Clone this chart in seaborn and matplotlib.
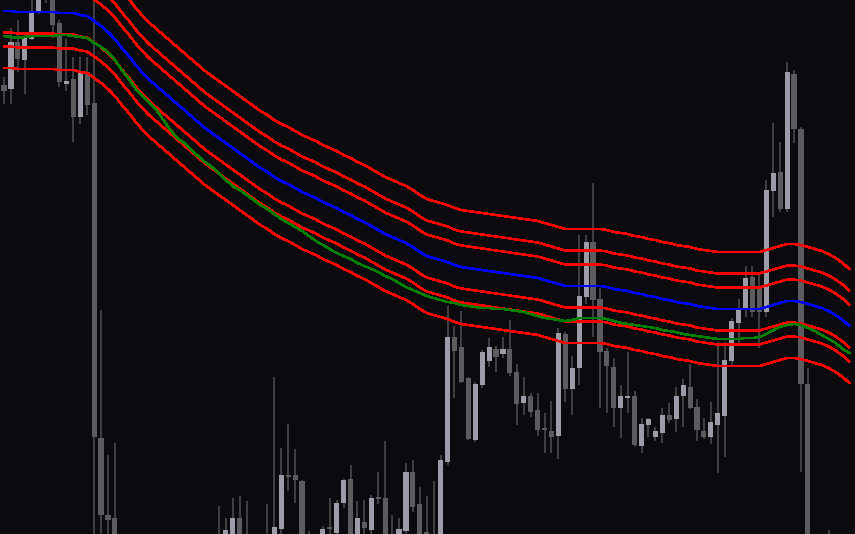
import pandas as pd
import seaborn as sns
import matplotlib
matplotlib.use("Agg")
import matplotlib.pyplot as plt

# OHLC per bar (price units, higher = up)
open_ = [615, 611, 658, 640, 661, 688, 718, 710, 677, 616, 621, 583, 628,
         597, 262, 185, 182, 152, 125, 140, 110, 90, 105, 80, 95, 70, 88, 102, 120, 110, 130,
         155, 148, 155, 182, 152, 140, 148, 155, 160, 171, 225, 225, 219, 155, 148, 152, 173, 167, 197, 221,
         160, 178, 170, 203, 202, 160, 150, 169, 228, 196, 168, 152,
         155, 238, 363, 353, 322, 260, 315, 339, 351, 346, 351, 328, 297, 304, 290, 272, 269, 264,
         366, 311, 332, 403, 458, 401, 349, 333, 292, 302, 304, 254, 275, 263, 267, 285, 281, 304,
         313, 293, 269, 263, 275, 284, 339, 377, 391, 423, 413, 388, 509, 528, 491, 626, 571, 316,
         140, 125, 135, 145, 130, 140]
high_ = [623, 672, 680, 667, 706, 712, 725, 716, 680, 661, 643, 643, 643,
         705, 390, 245, 257, 155, 148, 144, 120, 112, 110, 102, 100, 94, 110, 128, 132, 140, 152,
         194, 182, 202, 204, 199, 160, 162, 196, 323, 252, 276, 251, 220, 169, 160, 174, 202, 200, 221, 235,
         199, 200, 205, 228, 259, 185, 182, 237, 240, 213, 204, 219,
         245, 394, 374, 389, 323, 318, 350, 362, 354, 363, 380, 336, 323, 307, 307, 287, 299, 372,
         368, 344, 465, 465, 517, 412, 352, 342, 315, 348, 309, 282, 282, 273, 292, 297, 313, 321,
         336, 301, 282, 298, 358, 358, 382, 401, 434, 434, 426, 520, 577, 558, 638, 630, 573, 332,
         155, 152, 170, 155, 152, 150]
low_ = [596, 596, 628, 606, 660, 686, 697, 662, 613, 609, 558, 576, 585,
        155, 152, 150, 140, 110, 115, 100, 75, 80, 68, 72, 60, 55, 80, 95, 100, 104, 122,
        134, 140, 148, 144, 130, 132, 140, 148, 152, 163, 209, 197, 148, 140, 142, 147, 160, 165, 192, 155,
        155, 164, 165, 196, 154, 144, 144, 166, 188, 154, 155, 144,
        150, 235, 302, 317, 260, 258, 312, 333, 328, 342, 324, 275, 285, 283, 264, 247, 247, 241,
        298, 285, 315, 396, 363, 292, 287, 273, 262, 287, 253, 247, 263, 259, 257, 277, 268, 273,
        291, 259, 261, 256, 227, 243, 333, 357, 383, 383, 352, 383, 483, 488, 488, 557, 228, 120,
        110, 115, 125, 120, 115, 115]
close_ = [609, 658, 641, 662, 688, 705, 704, 675, 618, 619, 583, 628, 595,
          263, 185, 180, 152, 125, 140, 110, 90, 105, 80, 95, 70, 88, 102, 120, 110, 130, 140,
          142, 170, 182, 152, 140, 148, 155, 160, 173, 225, 223, 220, 155, 148, 152, 171, 171, 197, 220, 160,
          182, 172, 202, 201, 160, 150, 171, 228, 193, 160, 165, 160,
          240, 363, 349, 318, 261, 316, 348, 353, 343, 351, 327, 296, 304, 288, 270, 270, 263, 367,
          311, 332, 404, 458, 400, 348, 334, 292, 304, 304, 255, 276, 281, 269, 285, 280, 304, 315,
          292, 270, 263, 278, 287, 340, 379, 392, 422, 388, 388, 510, 527, 491, 628, 571, 316, 140,
          125, 135, 145, 130, 140, 128]

# moving average (blue) and signal line (green)
mid_line = [689, 689, 688, 688, 688, 688, 688, 688, 687, 687, 687, 685, 684,
            679, 674, 668, 661, 652, 644, 635, 627, 620, 614, 608, 602, 596, 590, 584, 578, 572, 567,
            562, 557, 552, 547, 542, 537, 532, 528, 523, 519, 516, 512, 508, 505, 502, 498,
            495, 492, 488, 485, 481, 478, 474, 470, 466, 463, 460, 457, 453, 448, 444, 442,
            440, 438, 435, 433, 432, 431, 430, 429, 428, 427, 426, 425, 424, 423, 422, 420, 418, 416,
            414, 414, 414, 414, 414, 414, 413, 411, 410, 409, 407, 406, 404, 403, 401, 400, 398, 397,
            396, 394, 393, 392, 391, 391, 391, 391, 391, 391, 391, 393, 395, 397, 399, 399, 398, 396,
            394, 392, 389, 385, 380, 374]
signal_line = [664, 663, 662, 663, 664, 664, 664, 664, 665, 665, 664, 663, 662,
               657, 653, 648, 640, 630, 621, 611, 604, 597, 590, 580, 570, 562, 557, 550, 544, 538, 533,
               527, 520, 514, 510, 505, 500, 495, 491, 486, 481, 477, 473, 469, 464, 459, 455,
               451, 447, 444, 441, 437, 434, 431, 428, 424, 421, 417, 413, 410, 407, 404, 402,
               400, 398, 397, 395, 394, 393, 392, 392, 391, 391, 390, 389, 388, 386, 384, 382, 381, 380,
               379, 380, 382, 382, 382, 382, 381, 379, 377, 376, 375, 374, 373, 372, 370, 369, 368, 366,
               365, 364, 363, 362, 361, 361, 361, 361, 362, 362, 363, 366, 370, 373, 375, 376, 375, 372,
               369, 365, 361, 357, 351, 347]
band_offsets = [21.5, 35.5, 57.0]

bg = "#0a0a0f"
bull_color = "#9c9ca8"
bear_color = "#5b5b60"
wick_color = "#4e4e54"

df = pd.DataFrame({"open": open_, "high": high_, "low": low_, "close": close_,
                   "mid": mid_line, "signal": signal_line})
df["bar"] = range(len(df))
df["bull"] = df["close"] >= df["open"]
df["body_low"] = df[["open", "close"]].min(axis=1)
df["body_h"] = (df["close"] - df["open"]).abs().clip(lower=1.5)

# long table of indicator lines
lines = [df[["bar"]].assign(price=df["mid"], line="mid"),
         df[["bar"]].assign(price=df["signal"], line="signal")]
palette = {"mid": "#0000ff", "signal": "#008000"}
for k, off in enumerate(band_offsets):
    lines.append(df[["bar"]].assign(price=df["mid"] + off, line=f"up{k}"))
    lines.append(df[["bar"]].assign(price=df["mid"] - off, line=f"dn{k}"))
    palette[f"up{k}"] = "#ff0000"
    palette[f"dn{k}"] = "#ff0000"
line_df = pd.concat(lines, ignore_index=True)

sns.set_theme(style="dark", rc={"axes.facecolor": bg, "figure.facecolor": bg})

fig, ax = plt.subplots(figsize=(8.55, 5.34), dpi=100)
fig.subplots_adjust(left=0, right=1, bottom=0, top=1)
ax.set_facecolor(bg)

# candles
ax.vlines(df["bar"], df["low"], df["high"], color=wick_color, lw=1.1, zorder=1)
ax.bar(df["bar"], df["body_h"], bottom=df["body_low"], width=0.74,
       color=[bull_color if b else bear_color for b in df["bull"]],
       linewidth=0, zorder=1.5)

# envelope lines on top, drawn pixel-stepped like the terminal
order = ["dn2", "dn1", "dn0", "up0", "up1", "up2", "signal", "mid"]
sns.lineplot(data=line_df, x="bar", y="price", hue="line", hue_order=order,
             palette=palette, legend=False, lw=1.1, ax=ax, zorder=3)
for ln in ax.get_lines():
    ln.set_antialiased(False)

ax.set_xlim(-0.58, 122.8)
ax.set_ylim(166, 700)
ax.set_axis_off()

plt.savefig("out.png", dpi=100, facecolor=bg)
